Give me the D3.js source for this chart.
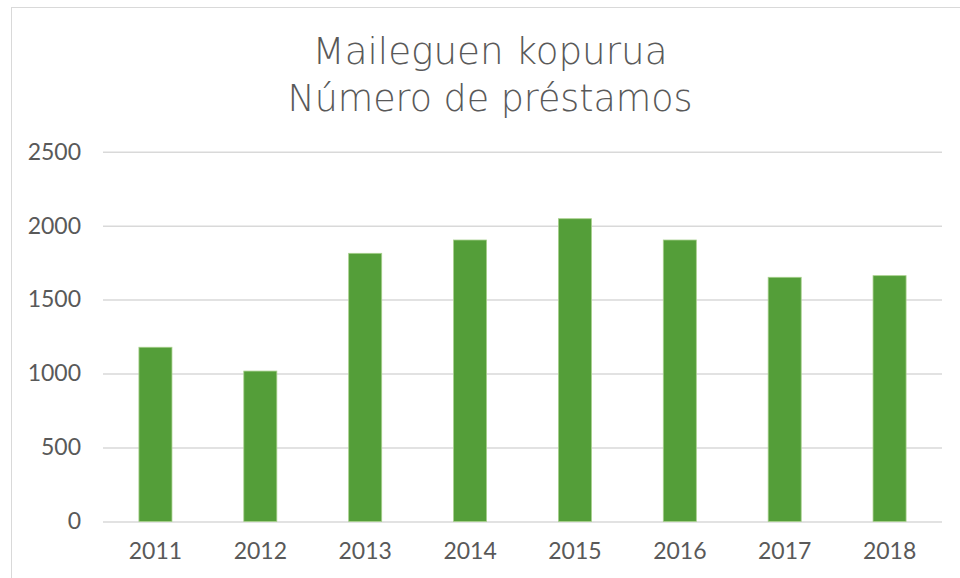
<!DOCTYPE html>
<html>
<head>
<meta charset="utf-8">
<script src="https://cdn.jsdelivr.net/npm/d3@7/dist/d3.min.js"></script>
<style>
  html, body { margin: 0; padding: 0; background: #fff; }
  svg { display: block; }
  text { font-family: "Lato", "Liberation Sans", sans-serif; fill: #595959; }
</style>
</head>
<body>
<svg id="chart" width="960" height="578"></svg>
<script>
// Loans per year
const years = ["2011", "2012", "2013", "2014", "2015", "2016", "2017", "2018"];
const loans = [1178, 1017, 1813, 1903, 2047, 1903, 1651, 1662];
const yTicks = [0, 500, 1000, 1500, 2000, 2500];
const titleLines = ["Maileguen kopurua", "Número de préstamos"];
const titleWidths = [355, 405];

const svg = d3.select("#chart");
const W = 960, H = 578;
const margin = { left: 103, right: 18, top: 151.7, bottom: 56.5 };
const TICK_FONT = "Lato, 'Liberation Sans', sans-serif";
const TITLE_FONT = "'DejaVu Sans', 'Liberation Sans', sans-serif";

// outer chart frame
svg.append("rect")
  .attr("x", 11.5).attr("y", 7.5)
  .attr("width", W + 20).attr("height", H + 20)
  .attr("fill", "none").attr("stroke", "#d9d9d9").attr("stroke-width", 1);

const x = d3.scaleBand()
  .domain(years)
  .range([margin.left, W - margin.right])
  .paddingInner(0.685).paddingOuter(0.3425);

const y = d3.scaleLinear()
  .domain([0, 2500])
  .range([H - margin.bottom, margin.top]);

// gridlines
const grid = svg.append("g")
  .attr("transform", `translate(${margin.left},0)`)
  .call(d3.axisLeft(y).tickValues(yTicks).tickSize(-(W - margin.left - margin.right)).tickFormat(""));
grid.select(".domain").remove();
grid.selectAll("line").attr("stroke", "#d9d9d9").attr("stroke-width", 1.5);

// y tick labels
const yAxis = svg.append("g")
  .attr("transform", "translate(81,0)")
  .call(d3.axisLeft(y).tickValues(yTicks).tickSize(0).tickPadding(0).tickFormat(d3.format("d")));
yAxis.select(".domain").remove();
yAxis.selectAll("text")
  .attr("font-size", 23).attr("fill", "#595959")
  .style("font-family", TICK_FONT);

// bars
svg.append("g").selectAll("rect")
  .data(years.map((yr, i) => ({ yr, v: loans[i] })))
  .join("rect")
  .attr("x", d => x(d.yr))
  .attr("y", d => y(d.v))
  .attr("width", x.bandwidth())
  .attr("height", d => y(0) - y(d.v))
  .attr("fill", "#549e39")
  .attr("stroke", "#a8d08d")
  .attr("stroke-width", 0.8);

// x tick labels
const xAxis = svg.append("g")
  .attr("transform", `translate(0,${y(0)})`)
  .call(d3.axisBottom(x).tickSize(0).tickPadding(21));
xAxis.select(".domain").remove();
xAxis.selectAll("text")
  .attr("font-size", 23).attr("fill", "#595959")
  .style("font-family", TICK_FONT);

// title
svg.append("g").selectAll("text")
  .data(titleLines)
  .join("text")
  .attr("x", 490)
  .attr("y", (d, i) => 64 + i * 47)
  .attr("text-anchor", "middle")
  .attr("font-size", 38)
  .attr("textLength", (d, i) => titleWidths[i])
  .attr("lengthAdjust", "spacingAndGlyphs")
  .style("font-family", TITLE_FONT).style("font-weight", 200)
  .attr("fill", "#4d4d4d")
  .text(d => d);
</script>
</body>
</html>
